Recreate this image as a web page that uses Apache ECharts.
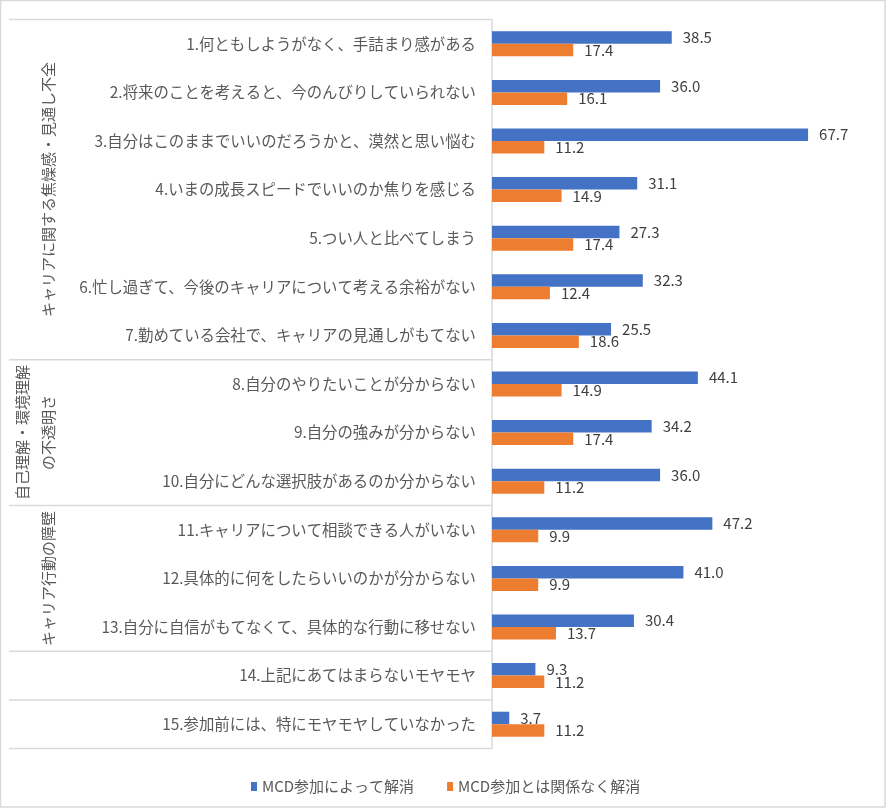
<!DOCTYPE html>
<html>
<head>
<meta charset="utf-8">
<script src="https://cdn.jsdelivr.net/npm/echarts@6/dist/echarts.min.js"></script>
<style>
html,body{margin:0;padding:0;background:#fff;}
#chart{width:886px;height:808px;}
</style>
</head>
<body>
<div id="chart"></div>
<script>
const categories = [
  '1.何ともしようがなく、手詰まり感がある',
  '2.将来のことを考えると、今のんびりしていられない',
  '3.自分はこのままでいいのだろうかと、漠然と思い悩む',
  '4.いまの成長スピードでいいのか焦りを感じる',
  '5.つい人と比べてしまう',
  '6.忙し過ぎて、今後のキャリアについて考える余裕がない',
  '7.勤めている会社で、キャリアの見通しがもてない',
  '8.自分のやりたいことが分からない',
  '9.自分の強みが分からない',
  '10.自分にどんな選択肢があるのか分からない',
  '11.キャリアについて相談できる人がいない',
  '12.具体的に何をしたらいいのかが分からない',
  '13.自分に自信がもてなくて、具体的な行動に移せない',
  '14.上記にあてはまらないモヤモヤ',
  '15.参加前には、特にモヤモヤしていなかった'
];
const mcdResolved   = [38.5, 36.0, 67.7, 31.1, 27.3, 32.3, 25.5, 44.1, 34.2, 36.0, 47.2, 41.0, 30.4, 9.3, 3.7];
const otherResolved = [17.4, 16.1, 11.2, 14.9, 17.4, 12.4, 18.6, 14.9, 17.4, 11.2, 9.9, 9.9, 13.7, 11.2, 11.2];
const seriesNames = ['MCD参加によって解消', 'MCD参加とは関係なく解消'];
const groupNames = ['キャリアに関する焦燥感・見通し不全', '自己理解・環境理解\nの不透明さ', 'キャリア行動の障壁', '', ''];
const groupSizes = [7, 3, 3, 1, 1];

const W = 886, H = 808;
const GRID = {left: 492, right: 20.5, top: 19.5, bottom: 59.5};
const FONT = '"Noto Sans CJK JP", "Noto Sans", sans-serif';
const LINE = '#d9d9d9';
const TXT = '#595959';

const chart = echarts.init(document.getElementById('chart'), null, {renderer: 'canvas'});

const band = (H - GRID.top - GRID.bottom) / categories.length;
const graphics = [];
graphics.push({type: 'rect', shape: {x: 0.5, y: 0.5, width: W - 1.5, height: H - 1.5},
  style: {fill: 'none', stroke: LINE, lineWidth: 1.5}, silent: true, z: 0});
let idx = 0;
const yTop = GRID.top;
graphics.push({type: 'line', shape: {x1: 9, y1: yTop, x2: GRID.left, y2: yTop},
  style: {stroke: LINE, lineWidth: 1.5}, silent: true});
groupSizes.forEach((n, g) => {
  const y0 = GRID.top + idx * band;
  idx += n;
  const y1 = GRID.top + idx * band;
  graphics.push({type: 'line', shape: {x1: 9, y1: y1, x2: GRID.left, y2: y1},
    style: {stroke: LINE, lineWidth: 1.5}, silent: true});
  if (groupNames[g]) {
    const lines = groupNames[g].split('\n').length;
    graphics.push({
      type: 'text', x: lines > 1 ? 35 : 48, y: (y0 + y1) / 2, rotation: Math.PI / 2,
      style: {text: groupNames[g], x: 0, y: 0, align: 'center', verticalAlign: 'middle',
        fill: TXT, fontSize: 15, fontFamily: FONT, lineHeight: 26},
      silent: true
    });
  }
});

const labelCfg = {
  show: true, position: 'right', distance: 11, color: '#404040', fontSize: 15,
  fontFamily: FONT, formatter: p => p.value.toFixed(1)
};

chart.setOption({
  backgroundColor: '#fff',
  animation: false,
  grid: {left: GRID.left, right: GRID.right, top: GRID.top, bottom: GRID.bottom, containLabel: false},
  legend: {
    data: seriesNames, left: 246, top: 774, icon: 'rect', itemWidth: 6, itemHeight: 9, itemGap: 33,
    textStyle: {color: TXT, fontSize: 15, fontFamily: FONT}
  },
  xAxis: {
    type: 'value', min: 0, max: 80, show: false,
    splitLine: {show: false}
  },
  yAxis: {
    type: 'category', data: categories, inverse: true,
    axisLine: {show: true, lineStyle: {color: LINE, width: 1.5}},
    axisTick: {show: false},
    axisLabel: {color: TXT, fontSize: 15.4, fontFamily: FONT, margin: 16}
  },
  series: [
    {name: seriesNames[0], type: 'bar', data: mcdResolved, barWidth: 12.5, barGap: '0%',
      itemStyle: {color: '#4472C4'}, label: labelCfg},
    {name: seriesNames[1], type: 'bar', data: otherResolved, barWidth: 12.5, barGap: '0%',
      itemStyle: {color: '#ED7D31'}, label: labelCfg}
  ],
  graphic: graphics
});
</script>
</body>
</html>
